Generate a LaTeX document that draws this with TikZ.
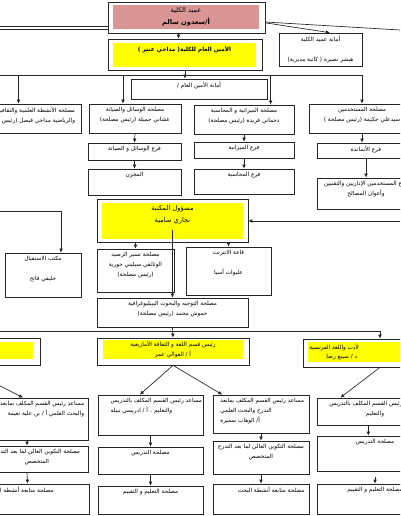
\documentclass[tikz,border=0pt]{standalone}
\usepackage{fontspec}
\usepackage{xcolor}
\newfontfamily\arfont[Script=Arabic]{DejaVu Sans}
\TeXXeTstate=1
\usetikzlibrary{arrows.meta}

\definecolor{deanpink}{RGB}{217,150,148}
\definecolor{headyellow}{RGB}{255,255,0}

\begin{document}
\begin{tikzpicture}[
  x=0.75pt, y=-0.75pt, >={Latex[length=3pt,width=2.8pt]},
  corners/.style n args={4}{at={({((#1)+(#3))/2},{((#2)+(#4))/2})},
    minimum width={((#3)-(#1))*0.75pt}, minimum height={((#4)-(#2))*0.75pt}},
  box/.style={draw=black!85, line width=0.5pt, fill=white, inner sep=0pt},
  inbox/.style={fill=#1, inner sep=0pt},
  txt/.style={font=\arfont\fontsize{4.3}{7.5}\selectfont, align=center, inner sep=0.5pt},
  bigtxt/.style={txt, font=\arfont\fontsize{5}{9}\selectfont},
  toptext/.style={label={[txt, anchor=north, yshift=-2pt]north:#1}},
  subtext/.style 2 args={label={[txt, anchor=north, yshift=-#1]north:#2}},
  rtext/.style 2 args={label={[txt, align=right, anchor=north east, xshift=#1, yshift=-2pt]north east:#2}},
  ltext/.style 2 args={label={[txt, align=left, anchor=north west, xshift=#1, yshift=-2pt]north west:#2}},
  link/.style={draw=black!85, line width=0.5pt}
]
\path[use as bounding box] (0,0) rectangle (400,516);
\clip (0,0) rectangle (400,516);

\node[box, corners={108}{2}{265}{33}] (dean) {};
\node[inbox=deanpink, corners={113}{5}{259}{29}, bigtxt] (deanin) {\beginR عميد الكلية\endR\\{\bfseries\beginR أ/سعدون سالم\endR}};
\node[box, corners={279}{33}{362}{66}, toptext={\beginR أمانة عميد الكلية\endR}, subtext={18pt}{\beginR هيشر نصيرة ( كاتبة مديرية)\endR}] (secdean) {};
\node[box, corners={108}{39}{262}{70}] (sg) {};
\node[inbox=headyellow, corners={113}{43}{256}{67}, toptext={\bfseries\beginR الأمين العام للكلية( مداحي عنتر )\endR}] (sgin) {};
\node[box, corners={131}{79}{267}{99}, toptext={\beginR أمانة الأمين العام /\endR}] (secsg) {};

\node[box, corners={-44}{104}{81}{133}, rtext={-4pt}{\beginR مصلحة الأنشطة العلمية والثقافية\endR\\\beginR والرياضية مداحي فيصل (رئيس مصلحة)\endR}] (act) {};
\node[box, corners={89}{104}{181}{133}, toptext={\beginR مصلحة الوسائل والصيانة\endR\\\beginR عشاني جميلة (رئيس مصلحة)\endR}] (mat) {};
\node[box, corners={194}{105}{294}{134}, toptext={\beginR مصلحة الميزانية و المحاسبة\endR\\\beginR دحماني فريدة (رئيس مصلحة)\endR}] (fin) {};
\node[box, corners={309}{104}{415}{133}, toptext={\beginR مصلحة المستخدمين\endR\\\beginR سيدعلي حكيمة (رئيس مصلحة )\endR}] (hr) {};

\node[box, corners={88}{143}{181}{160}, toptext={\beginR فرع الوسائل و الصيانة\endR}] (matbr) {};
\node[box, corners={88}{169}{181}{195}, toptext={\beginR المخزن\endR}] (store) {};
\node[box, corners={194}{142}{294}{158}, toptext={\beginR فرع الميزانية\endR}] (budget) {};
\node[box, corners={194}{169}{294}{194}, toptext={\beginR فرع المحاسبة\endR}] (acct) {};
\node[box, corners={317}{143}{415}{158}, toptext={\beginR فرع الأساتذة\endR}] (prof) {};
\node[box, corners={317}{178}{415}{209}, toptext={\beginR فرع المستخدمين الإداريين والتقنيين\endR\\\beginR وأعوان المصالح\endR}] (staff) {};

\node[box, corners={97}{199}{248}{242}] (lib) {};
\node[inbox=headyellow, corners={102}{203}{243}{239}, label={[bigtxt, anchor=north, yshift=-1.5pt]north:\beginR مسؤول المكتبة\endR\\\beginR نجاري سامية\endR}] (libin) {};
\node[box, corners={5}{253}{81}{297}, toptext={\beginR مكتب الاستقبال\endR}, subtext={17pt}{\beginR خليفي فاتح\endR}] (recep) {};
\node[box, corners={97}{249}{174}{292}, toptext={\beginR مصلحة تسير الرصيد\endR\\\beginR الوثائقي سيليني حورية\endR\\\beginR (رئيس مصلحة)\endR}] (fonds) {};
\node[box, corners={186}{247}{271}{295}, toptext={\beginR قاعة الانترنت\endR}, subtext={16.5pt}{\beginR عليوات آسيا\endR}] (net) {};
\node[box, corners={97}{298}{248}{327}, toptext={\beginR مصلحة التوجيه والبحوث البيبليوغرافية\endR\\\beginR حموش محمد (رئيس مصلحة)\endR}] (guide) {};

\node[box, corners={-120}{338}{40}{365}] (dept) {};
\node[inbox=headyellow, corners={-120}{342}{33}{359}] (deptin) {};
\node[box, corners={97}{338}{249}{365}] (amz) {};
\node[inbox=headyellow, corners={103}{341}{243}{358}, txt] (amzin) {\beginR رئيس قسم اللغة و الثقافة الأمازيغية\endR\\\beginR أ / العوالي عمر\endR};
\node[box, corners={303}{339}{457}{367}] (fr) {};
\node[inbox=headyellow, corners={308}{342}{452}{362}] (frin) {};
\coordinate (frcut) at (358,362);
\begin{scope}
  \clip (frin.north west) rectangle (frcut);
  \node[txt, anchor=north west] (frhead) at ([xshift=0.5pt, yshift=-1pt]frin.north west) {\beginR رئيس قسم الأدب واللغة الفرنسية\endR};
  \node[txt, anchor=south east] (frname) at ([yshift=1pt]frcut) {\beginR د / سيبع رضا\endR};
\end{scope}

\node[box, corners={-14}{398}{88}{440}, rtext={-2.5pt}{\beginR مساعد رئيس القسم المكلف بمابعد التدرج\endR\\\beginR والبحث العلمي أ / بن علية نعيمة\endR}] (leftA) {};
\node[box, corners={98}{395}{203}{435}, ltext={9pt}{\beginR مساعد رئيس القسم المكلف بالتدريس\endR\\\beginR والتعليم . أ / ادريسي نبيلة\endR}] (asstA) {};
\node[box, corners={213}{395}{309}{433}, ltext={5pt}{\beginR مساعد رئيس القسم المكلف بمابعد\endR\\\beginR التدرج والبحث العلمي\endR\\\beginR أ/ الوهاب سميرة\endR}] (asstB) {};
\node[box, corners={317}{398}{433}{425}, toptext={\beginR مساعد رئيس القسم المكلف بالتدريس\endR\\\beginR والتعليم\endR}] (frA) {};

\node[box, corners={-14}{446}{88}{472}, toptext={\beginR مصلحة التكوين العالي لما بعد التدرج\endR\\\beginR المتخصص\endR}] (leftB) {};
\node[box, corners={-14}{484}{89}{514}, rtext={-26pt}{\beginR مصلحة متابعة أنشطة البحث\endR}] (leftC) {};
\node[box, corners={98}{447}{203}{474}, toptext={\beginR مصلحة التدريس\endR}] (teach) {};
\node[box, corners={98}{486}{203}{514}, toptext={\beginR مصلحة التعليم و التقييم\endR}] (eval) {};
\node[box, corners={213}{441}{309}{474}, toptext={\beginR مصلحة التكوين العالي لما بعد التدرج\endR\\\beginR المتخصص\endR}] (grad) {};
\node[box, corners={213}{484}{309}{514}, rtext={-3pt}{\beginR مصلحة متابعة أنشطة البحث\endR}] (research) {};
\node[box, corners={317}{436}{433}{471}, toptext={\beginR مصلحة التدريس\endR}] (frteach) {};
\node[box, corners={317}{484}{433}{514}, toptext={\beginR مصلحة التعليم و التقييم\endR}] (freval) {};

\coordinate (edgeL) at (0,28);
\coordinate (edgeR) at (400,30);
\coordinate (busL) at (0,75);
\coordinate (edgeL2) at (0,211);
\coordinate (edgeR2) at (400,221);
\coordinate (bus2L) at (0,331);

\draw[link, double, double distance=2pt] (edgeL) -- (edgeL -| dean.west);
\draw[link] ([yshift=-3.4pt]dean.east) -- (edgeR);
\draw[link,->] ([yshift=-4pt]dean.east) -- ([xshift=7pt]secdean.north);
\draw[link,->] ([xshift=-6pt]dean.south) -- ([xshift=-6pt]dean.south |- sg.north);
\draw[link,->] (sg.south) -- (sg.south |- secsg.north);
\draw[link] (busL) -- (hr.north |- busL);
\foreach \n/\s in {act/0pt, mat/-9pt, fin/20pt, hr/0pt}
  \draw[link,->] ([xshift=\s]\n.north |- busL) -- ([xshift=\s]\n.north);
\draw[link,->] (mat.south) -- (matbr.north);
\draw[link,->] (matbr.south) -- (store.north);
\draw[link,->] (fin.south) -- (budget.north);
\draw[link,->] (budget.south) -- (acct.north);
\draw[link,->] (hr.south) -- (hr.south |- prof.north);
\draw[link,->] (prof.south) -- (staff.north);

\draw[link,->] (edgeR2) -- (edgeR2 -| lib.east);
\draw[link,->] (edgeL2) -| ([xshift=13.5pt]recep.north);
\draw[link,->] (fonds.north |- lib.south) -- (fonds.north);
\draw[link,->] (net.north |- lib.south) -- (net.north);
\draw[link,->] ([yshift=-7pt]lib.center) -- (guide.north);

\draw[link,->] (bus2L) -| (fr.north);
\draw[link,->] (guide.south) -- (amz.north);
\draw[link,->] (dept.south) -- ([xshift=-10.5pt]leftA.north);
\draw[link,->] (amz.south) -- ([xshift=-8pt]asstA.north);
\draw[link,->] (amz.south) -- ([xshift=-29pt]asstB.north);
\draw[link,->] (fr.south) -- ([xshift=-26pt]frA.north);

\draw[link,->] ([xshift=-7.5pt]leftA.south) -- ([xshift=-7.5pt]leftB.north);
\draw[link,->] ([xshift=-7.5pt]leftB.south) -- ([xshift=-7.5pt]leftC.north);
\draw[link,->] (asstA.south) -- (teach.north);
\draw[link,->] (teach.south) -- (eval.north);
\draw[link,->] (asstB.south) -- (grad.north);
\draw[link,->] (grad.south) -- (research.north);
\draw[link,->] ([xshift=-5pt]frA.south) -- ([xshift=-5pt]frteach.north);
\draw[link,->] ([yshift=-4.5pt]frteach.south) -- (freval.north);
\end{tikzpicture}
\end{document}
